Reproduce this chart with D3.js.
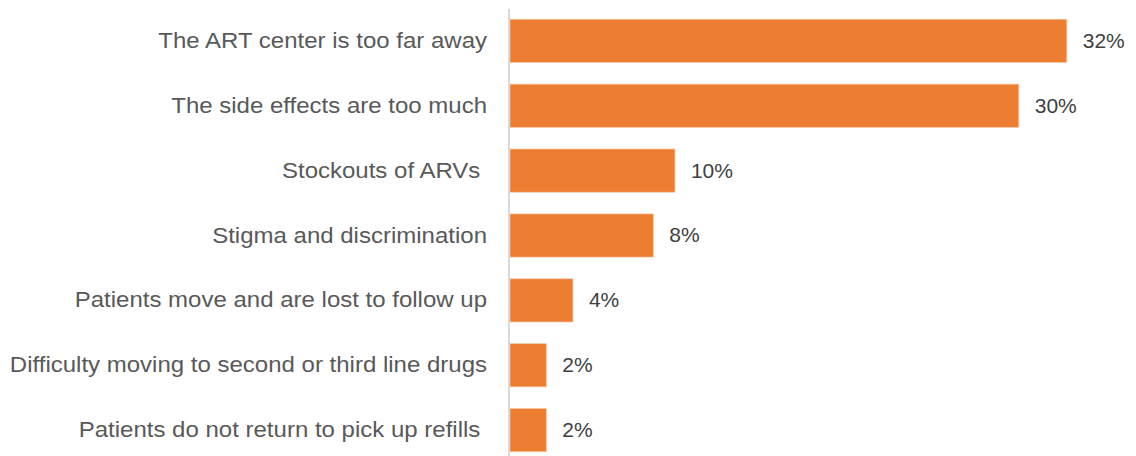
<!DOCTYPE html>
<html>
<head>
<meta charset="utf-8">
<script src="https://cdn.jsdelivr.net/npm/d3@7"></script>
<style>
  html, body { margin: 0; padding: 0; background: #fff; }
  svg { display: block; }
  text { font-family: "Liberation Sans", Arial, sans-serif; }
</style>
</head>
<body>
<svg id="chart" width="1136" height="456"></svg>
<script>
const categories = [
  "The ART center is too far away",
  "The side effects are too much",
  "Stockouts of ARVs ",
  "Stigma and discrimination",
  "Patients move and are lost to follow up",
  "Difficulty moving to second or third line drugs",
  "Patients do not return to pick up refills "
];
const values = [32.37, 29.58, 9.59, 8.33, 3.66, 2.11, 2.11];
const valueLabels = ["32%", "30%", "10%", "8%", "4%", "2%", "2%"];

const svg = d3.select("#chart");
const x = d3.scaleLinear().domain([0, 35]).range([510, 1112]);
const y = d3.scaleBand().domain(categories).range([8.4, 462.6]).paddingInner(0.335).paddingOuter(0.1675);

// axis line
svg.append("line")
  .attr("x1", 509).attr("x2", 509)
  .attr("y1", 9).attr("y2", 456)
  .attr("stroke", "#d9d9d9").attr("stroke-width", 2);

svg.selectAll("rect.bar").data(values).enter().append("rect")
  .attr("class", "bar")
  .attr("x", x(0))
  .attr("y", (d, i) => y(categories[i]))
  .attr("width", d => x(d) - x(0))
  .attr("height", y.bandwidth())
  .attr("fill", "#ed7d31")
  .attr("stroke", "#f6c4a3")
  .attr("stroke-width", 0.7);

svg.selectAll("text.cat").data(categories).enter().append("text")
  .attr("class", "cat")
  .attr("transform", d => `translate(487,${y(d) + y.bandwidth() / 2}) scale(1.117,1)`)
  .attr("dy", "0.33em")
  .attr("text-anchor", "end")
  .style("white-space", "pre")
  .attr("font-size", 21.5)
  .attr("fill", "#595959")
  .text(d => d);

svg.selectAll("text.val").data(values).enter().append("text")
  .attr("class", "val")
  .attr("x", d => x(d) + 16)
  .attr("y", (d, i) => y(categories[i]) + y.bandwidth() / 2)
  .attr("dy", "0.33em")
  .attr("font-size", 21)
  .attr("fill", "#404040")
  .text((d, i) => valueLabels[i]);
</script>
</body>
</html>
